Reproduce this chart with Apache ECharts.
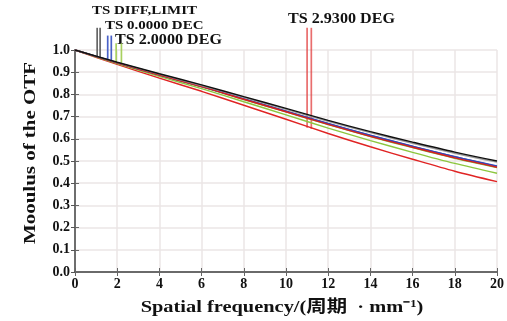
<!DOCTYPE html>
<html>
<head>
<meta charset="utf-8">
<script src="https://cdn.jsdelivr.net/npm/echarts@6/dist/echarts.min.js"></script>
<style>
  html, body { margin: 0; padding: 0; background: #fff; }
  #main { width: 507px; height: 321px; }
</style>
</head>
<body>
<div id="main"></div>
<script>
// 空间频率 (周期/mm)
var freqs = [0, 2, 4, 6, 8, 10, 12, 14, 16, 18, 20];
var yTicks = ['0.0', '0.1', '0.2', '0.3', '0.4', '0.5', '0.6', '0.7', '0.8', '0.9', '1.0'];

// MTF 曲线
var diffT = [1, 0.945, 0.893, 0.843, 0.79, 0.737, 0.683, 0.632, 0.585, 0.54, 0.50];
var diffS = [1, 0.944, 0.891, 0.84, 0.787, 0.733, 0.679, 0.628, 0.58, 0.535, 0.495];
var deg0T = [1, 0.943, 0.888, 0.836, 0.781, 0.725, 0.669, 0.616, 0.567, 0.52, 0.478];
var deg0S = [1, 0.942, 0.887, 0.835, 0.78, 0.724, 0.668, 0.615, 0.566, 0.519, 0.476];
var deg2T = [1, 0.942, 0.887, 0.834, 0.777, 0.721, 0.664, 0.61, 0.56, 0.512, 0.47];
var deg2S = [1, 0.939, 0.881, 0.826, 0.767, 0.708, 0.648, 0.592, 0.539, 0.489, 0.445];
var deg293T = [1, 0.942, 0.887, 0.835, 0.778, 0.722, 0.665, 0.611, 0.562, 0.514, 0.472];
var deg293S = [1, 0.935, 0.873, 0.814, 0.751, 0.688, 0.624, 0.564, 0.508, 0.454, 0.407];

// 标注竖线: 频率, 顶端 MTF, 底端 MTF
var markDiff = [[1.05, 1.1, 0.968], [1.19, 1.1, 0.965]];
var mark0 = [[1.55, 1.065, 0.958], [1.72, 1.065, 0.955]];
var mark2 = [[1.95, 1.03, 0.947], [2.2, 1.03, 0.942]];
var mark293 = [[11.0, 1.1, 0.65], [11.2, 1.1, 0.645]];
var markNames = ['TS DIFF,LIMIT', 'TS 0.0000 DEC', 'TS 2.0000 DEG', 'TS 2.9300 DEG'];

var serif = "'Liberation Serif', 'Noto Sans CJK SC', serif";

function pairs(ys) {
	var out = [];
	for (var i = 0; i < freqs.length; i++) out.push([freqs[i], ys[i]]);
	return out;
}

function curve(name, ys, color) {
	return {
		name: name,
		type: 'line',
		data: pairs(ys),
		showSymbol: false,
		smooth: 0.3,
		lineStyle: { color: color, width: 1.4 },
		silent: true
	};
}

function marker(data, color) {
	return {
		type: 'custom',
		data: data,
		clip: false,
		silent: true,
		encode: { x: 0, y: [1, 2] },
		renderItem: function (params, api) {
			var p1 = api.coord([api.value(0), api.value(1)]);
			var p2 = api.coord([api.value(0), api.value(2)]);
			return {
				type: 'line',
				shape: { x1: p1[0], y1: p1[1], x2: p2[0], y2: p2[1] },
				style: { stroke: color, lineWidth: 1.7 }
			};
		}
	};
}

function label(text, x, y, size) {
	return {
		type: 'text', x: x, y: y, scaleX: 1.15,
		style: { text: text, font: 'bold ' + size + 'px ' + serif, fill: '#111', align: 'left', verticalAlign: 'top' }
	};
}

var myChart = echarts.init(document.getElementById('main'));

var option = {
	animation: false,
	backgroundColor: '#fff',
	grid: { left: 75, right: 10, top: 50, bottom: 49 },
	xAxis: [{
		type: 'value',
		min: 0, max: 20, interval: 2,
		axisLine: { lineStyle: { color: '#444', width: 2 } },
		axisTick: { show: true, inside: true, length: 4, lineStyle: { color: '#666' } },
		axisLabel: { fontFamily: serif, fontSize: 14, fontWeight: 'bold', color: '#111', margin: 5 },
		splitLine: { show: true, lineStyle: { color: '#ebe6e6', width: 1.5 } }
	}, {
		type: 'value',
		position: 'top',
		min: 0, max: 20, interval: 2,
		axisLine: { show: true, lineStyle: { color: '#777', width: 1.5 } },
		axisTick: { show: true, inside: true, length: 4, lineStyle: { color: '#666' } },
		axisLabel: { show: false },
		splitLine: { show: false }
	}],
	yAxis: [{
		type: 'value',
		min: 0, max: 1, interval: 0.1,
		axisLine: { show: true, lineStyle: { color: '#555', width: 2 } },
		axisTick: { show: true, inside: true, length: 4, lineStyle: { color: '#666' } },
		axisLabel: {
			fontFamily: serif, fontSize: 14, fontWeight: 'bold', color: '#111', margin: 5,
			formatter: function (v) { return yTicks[Math.round(v * 10)]; }
		},
		splitLine: { show: true, lineStyle: { color: '#ebe6e6', width: 1.5 } }
	}, {
		type: 'value',
		position: 'right',
		min: 0, max: 1, interval: 0.1,
		axisLine: { show: true, lineStyle: { color: '#777', width: 1.5 } },
		axisTick: { show: true, inside: true, length: 4, lineStyle: { color: '#555' } },
		axisLabel: { show: false },
		splitLine: { show: false }
	}],
	graphic: [
		label(markNames[0], 92, 4, 13),
		label(markNames[1], 105, 19, 13),
		label(markNames[2], 115, 33, 14),
		label(markNames[3], 288, 12, 14),
		{
			type: 'text', x: 282, y: 308, scaleX: 1.2,
			style: { text: 'Spatial frequency/(周期  · mm⁻¹)', font: 'bold 17px ' + serif, fill: '#111', align: 'center', verticalAlign: 'middle' }
		},
		{
			type: 'text', x: 31, y: 153, rotation: Math.PI / 2, scaleX: 1.23,
			style: { text: 'Mooulus of the OTF', font: 'bold 17px ' + serif, fill: '#111', align: 'center', verticalAlign: 'middle' }
		}
	],
	series: [
		curve('2.93 S', deg293S, '#e02424'),
		curve('2.0 S', deg2S, '#8cc63f'),
		curve('2.0 T', deg2T, '#7cb83a'),
		curve('0.0 S', deg0S, '#3a4fc0'),
		curve('0.0 T', deg0T, '#3348b8'),
		curve('2.93 T', deg293T, '#d81e1e'),
		curve('DIFF S', diffS, '#999999'),
		curve('DIFF T', diffT, '#111111'),
		marker(markDiff, '#666'),
		marker(mark0, '#4a62c8'),
		marker(mark2, '#a8d060'),
		marker(mark293, 'rgba(225,60,60,0.75)')
	]
};

myChart.setOption(option);
</script>
</body>
</html>
